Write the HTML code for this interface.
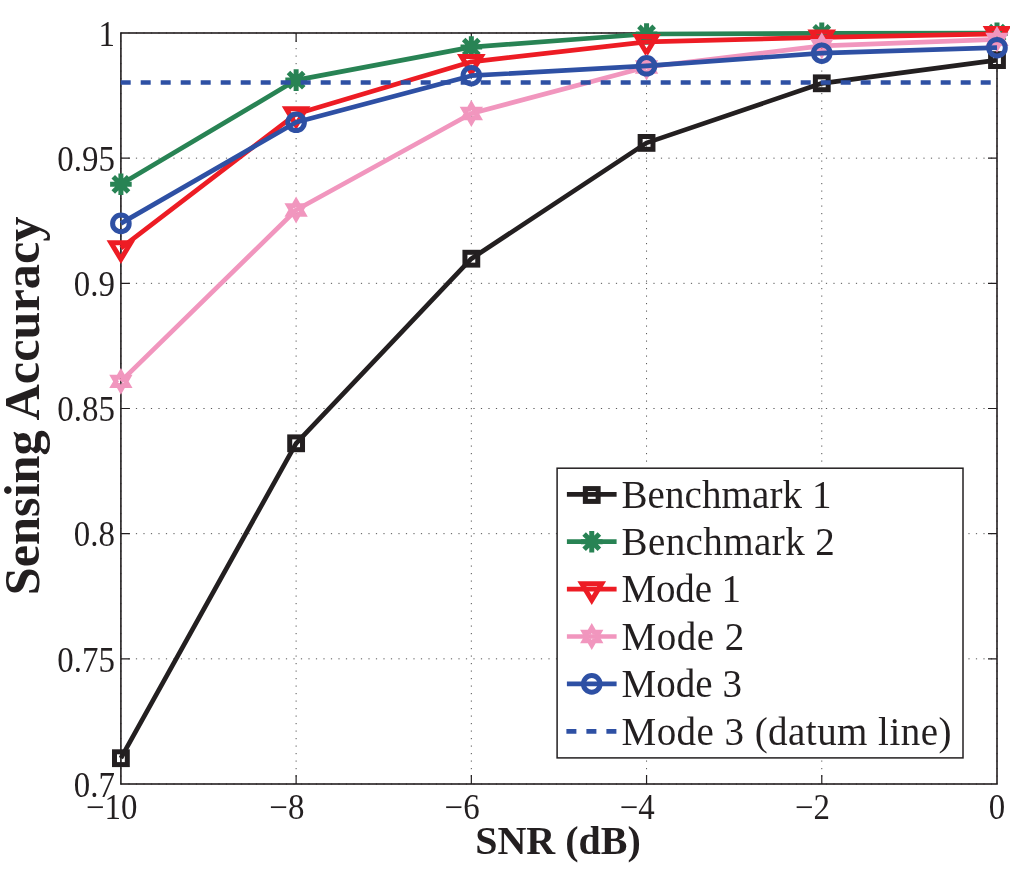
<!DOCTYPE html>
<html><head><meta charset="utf-8"><title>Sensing Accuracy vs SNR</title>
<style>html,body{margin:0;padding:0;background:#fff;}svg{display:block;will-change:transform;}</style>
</head><body>
<svg width="1010" height="874" viewBox="0 0 1010 874">
<rect width="1010" height="874" fill="#fff"/>
<path d="M120.9 33V784M296.12 33V784M471.34 33V784M646.56 33V784M821.78 33V784M997 33V784M120.9 784H997M120.9 658.83H997M120.9 533.67H997M120.9 408.5H997M120.9 283.33H997M120.9 158.17H997M120.9 33H997" stroke="#555" stroke-width="1" stroke-dasharray="1.2 6.3" fill="none"/>
<path d="M296.12 784V775M296.12 33V42M471.34 784V775M471.34 33V42M646.56 784V775M646.56 33V42M821.78 784V775M821.78 33V42M120.9 658.83H129.9M997 658.83H988M120.9 533.67H129.9M997 533.67H988M120.9 408.5H129.9M997 408.5H988M120.9 283.33H129.9M997 283.33H988M120.9 158.17H129.9M997 158.17H988" stroke="#231f20" stroke-width="1.2" fill="none"/>
<rect x="120.9" y="33" width="876.1" height="751" fill="none" stroke="#231f20" stroke-width="1.6"/>
<g font-family="'Liberation Serif', serif" font-size="35" fill="#231f20">
<text transform="translate(114.9 796.8) scale(0.94 1)" text-anchor="end">0.7</text>
<text transform="translate(114.9 671.63) scale(0.94 1)" text-anchor="end">0.75</text>
<text transform="translate(114.9 546.47) scale(0.94 1)" text-anchor="end">0.8</text>
<text transform="translate(114.9 421.3) scale(0.94 1)" text-anchor="end">0.85</text>
<text transform="translate(114.9 296.13) scale(0.94 1)" text-anchor="end">0.9</text>
<text transform="translate(114.9 170.97) scale(0.94 1)" text-anchor="end">0.95</text>
<text transform="translate(114.9 45.8) scale(0.94 1)" text-anchor="end">1</text>
<text transform="translate(137.35 819) scale(0.94 1)" text-anchor="end">&#8722;10</text>
<text transform="translate(304.35 819) scale(0.94 1)" text-anchor="end">&#8722;8</text>
<text transform="translate(479.57 819) scale(0.94 1)" text-anchor="end">&#8722;6</text>
<text transform="translate(654.79 819) scale(0.94 1)" text-anchor="end">&#8722;4</text>
<text transform="translate(830 819) scale(0.94 1)" text-anchor="end">&#8722;2</text>
<text transform="translate(1005.23 819) scale(0.94 1)" text-anchor="end">0</text>
</g>
<text x="558" y="854.3" text-anchor="middle" font-family="'Liberation Serif', serif" font-size="40" font-weight="bold" fill="#231f20">SNR (dB)</text>
<text transform="translate(38.6 405.9) rotate(-90)" text-anchor="middle" font-family="'Liberation Serif', serif" font-size="50.3" font-weight="bold" fill="#231f20">Sensing Accuracy</text>
<polyline points="120.9,758.2 296.12,443.3 471.34,258.7 646.56,142.9 821.78,83.3 997,60.1" fill="none" stroke="#231f20" stroke-width="4.7" stroke-linejoin="round"/>
<rect x="114.5" y="751.8" width="12.8" height="12.8" fill="none" stroke="#231f20" stroke-width="5.0"/>
<rect x="289.72" y="436.9" width="12.8" height="12.8" fill="none" stroke="#231f20" stroke-width="5.0"/>
<rect x="464.94" y="252.3" width="12.8" height="12.8" fill="none" stroke="#231f20" stroke-width="5.0"/>
<rect x="640.16" y="136.5" width="12.8" height="12.8" fill="none" stroke="#231f20" stroke-width="5.0"/>
<rect x="815.38" y="76.9" width="12.8" height="12.8" fill="none" stroke="#231f20" stroke-width="5.0"/>
<rect x="990.6" y="53.7" width="12.8" height="12.8" fill="none" stroke="#231f20" stroke-width="5.0"/>
<polyline points="120.9,184.3 296.12,80.1 471.34,47.1 646.56,34 821.78,33.3 997,33.2" fill="none" stroke="#288354" stroke-width="4.7" stroke-linejoin="round"/>
<path d="M120.9 173.5V195.1M110.1 184.3H131.7M113.26 176.66L128.54 191.94M113.26 191.94L128.54 176.66" stroke="#288354" stroke-width="5.0" fill="none"/>
<path d="M296.12 69.3V90.9M285.32 80.1H306.92M288.48 72.46L303.76 87.74M288.48 87.74L303.76 72.46" stroke="#288354" stroke-width="5.0" fill="none"/>
<path d="M471.34 36.3V57.9M460.54 47.1H482.14M463.7 39.46L478.98 54.74M463.7 54.74L478.98 39.46" stroke="#288354" stroke-width="5.0" fill="none"/>
<path d="M646.56 23.2V44.8M635.76 34H657.36M638.92 26.36L654.2 41.64M638.92 41.64L654.2 26.36" stroke="#288354" stroke-width="5.0" fill="none"/>
<path d="M821.78 22.5V44.1M810.98 33.3H832.58M814.14 25.66L829.42 40.94M814.14 40.94L829.42 25.66" stroke="#288354" stroke-width="5.0" fill="none"/>
<path d="M997 22.4V44M986.2 33.2H1007.8M989.36 25.56L1004.64 40.84M989.36 40.84L1004.64 25.56" stroke="#288354" stroke-width="5.0" fill="none"/>
<polyline points="120.9,248.1 296.12,114 471.34,61.8 646.56,41.9 821.78,37.4 997,33.8" fill="none" stroke="#ed1c24" stroke-width="4.7" stroke-linejoin="round"/>
<polygon points="111,242.8 130.8,242.8 120.9,259.2" fill="none" stroke="#ed1c24" stroke-width="5.0" stroke-linejoin="miter" stroke-miterlimit="10"/>
<polygon points="286.22,108.7 306.02,108.7 296.12,125.1" fill="none" stroke="#ed1c24" stroke-width="5.0" stroke-linejoin="miter" stroke-miterlimit="10"/>
<polygon points="461.44,56.5 481.24,56.5 471.34,72.9" fill="none" stroke="#ed1c24" stroke-width="5.0" stroke-linejoin="miter" stroke-miterlimit="10"/>
<polygon points="636.66,36.6 656.46,36.6 646.56,53" fill="none" stroke="#ed1c24" stroke-width="5.0" stroke-linejoin="miter" stroke-miterlimit="10"/>
<polygon points="811.88,32.1 831.68,32.1 821.78,48.5" fill="none" stroke="#ed1c24" stroke-width="5.0" stroke-linejoin="miter" stroke-miterlimit="10"/>
<polygon points="987.1,28.5 1006.9,28.5 997,44.9" fill="none" stroke="#ed1c24" stroke-width="5.0" stroke-linejoin="miter" stroke-miterlimit="10"/>
<polyline points="120.9,381.4 296.12,210 471.34,113.5 646.56,67 821.78,45.8 997,39.4" fill="none" stroke="#f196be" stroke-width="4.7" stroke-linejoin="round"/>
<polygon points="120.9,372.95 123.34,377.17 128.22,377.17 125.78,381.4 128.22,385.62 123.34,385.62 120.9,389.85 118.46,385.62 113.58,385.62 116.02,381.4 113.58,377.17 118.46,377.17" fill="none" stroke="#f196be" stroke-width="5.0" stroke-linejoin="miter" stroke-miterlimit="10"/>
<polygon points="296.12,201.55 298.56,205.78 303.44,205.78 301,210 303.44,214.22 298.56,214.22 296.12,218.45 293.68,214.22 288.8,214.22 291.24,210 288.8,205.78 293.68,205.78" fill="none" stroke="#f196be" stroke-width="5.0" stroke-linejoin="miter" stroke-miterlimit="10"/>
<polygon points="471.34,105.05 473.78,109.28 478.66,109.28 476.22,113.5 478.66,117.72 473.78,117.72 471.34,121.95 468.9,117.72 464.02,117.72 466.46,113.5 464.02,109.28 468.9,109.28" fill="none" stroke="#f196be" stroke-width="5.0" stroke-linejoin="miter" stroke-miterlimit="10"/>
<polygon points="646.56,58.55 649,62.77 653.88,62.77 651.44,67 653.88,71.22 649,71.22 646.56,75.45 644.12,71.22 639.24,71.22 641.68,67 639.24,62.77 644.12,62.77" fill="none" stroke="#f196be" stroke-width="5.0" stroke-linejoin="miter" stroke-miterlimit="10"/>
<polygon points="821.78,37.35 824.22,41.57 829.1,41.57 826.66,45.8 829.1,50.02 824.22,50.02 821.78,54.25 819.34,50.02 814.46,50.02 816.9,45.8 814.46,41.57 819.34,41.57" fill="none" stroke="#f196be" stroke-width="5.0" stroke-linejoin="miter" stroke-miterlimit="10"/>
<polygon points="997,30.95 999.44,35.17 1004.32,35.17 1001.88,39.4 1004.32,43.62 999.44,43.62 997,47.85 994.56,43.62 989.68,43.62 992.12,39.4 989.68,35.17 994.56,35.17" fill="none" stroke="#f196be" stroke-width="5.0" stroke-linejoin="miter" stroke-miterlimit="10"/>
<polyline points="120.9,223.4 296.12,122.3 471.34,75.7 646.56,65.8 821.78,53.2 997,47.7" fill="none" stroke="#2e50a4" stroke-width="4.7" stroke-linejoin="round"/>
<circle cx="120.9" cy="223.4" r="8.3" fill="none" stroke="#2e50a4" stroke-width="5.0"/>
<circle cx="296.12" cy="122.3" r="8.3" fill="none" stroke="#2e50a4" stroke-width="5.0"/>
<circle cx="471.34" cy="75.7" r="8.3" fill="none" stroke="#2e50a4" stroke-width="5.0"/>
<circle cx="646.56" cy="65.8" r="8.3" fill="none" stroke="#2e50a4" stroke-width="5.0"/>
<circle cx="821.78" cy="53.2" r="8.3" fill="none" stroke="#2e50a4" stroke-width="5.0"/>
<circle cx="997" cy="47.7" r="8.3" fill="none" stroke="#2e50a4" stroke-width="5.0"/>
<path d="M120.7 82.5H997" stroke="#2e50a4" stroke-width="4.7" stroke-dasharray="10 10" fill="none"/>
<rect x="557.1" y="468.2" width="405.9" height="289.7" fill="#fff" stroke="#231f20" stroke-width="1.5"/>
<g font-family="'Liberation Serif', serif" font-size="39" fill="#231f20">
<path d="M566.9 494.3H616.6" stroke="#231f20" stroke-width="4.7"/>
<rect x="585.35" y="488.6" width="12.8" height="12.8" fill="none" stroke="#231f20" stroke-width="5.0"/>
<text x="621.5" y="507.5" textLength="210" lengthAdjust="spacing">Benchmark 1</text>
<path d="M566.9 541.7H616.6" stroke="#288354" stroke-width="4.7"/>
<path d="M591.75 530.9V552.5M580.95 541.7H602.55M584.11 534.06L599.39 549.34M584.11 549.34L599.39 534.06" stroke="#288354" stroke-width="5.0" fill="none"/>
<text x="621.5" y="554.9" textLength="213.3" lengthAdjust="spacing">Benchmark 2</text>
<path d="M566.9 589.1H616.6" stroke="#ed1c24" stroke-width="4.7"/>
<polygon points="581.85,583.8 601.65,583.8 591.75,600.2" fill="none" stroke="#ed1c24" stroke-width="5.0" stroke-linejoin="miter" stroke-miterlimit="10"/>
<text x="621.5" y="602.3" textLength="119.45" lengthAdjust="spacing">Mode 1</text>
<path d="M566.9 636.5H616.6" stroke="#f196be" stroke-width="4.7"/>
<polygon points="591.75,628.05 594.19,632.27 599.07,632.27 596.63,636.5 599.07,640.73 594.19,640.73 591.75,644.95 589.31,640.73 584.43,640.73 586.87,636.5 584.43,632.27 589.31,632.27" fill="none" stroke="#f196be" stroke-width="5.0" stroke-linejoin="miter" stroke-miterlimit="10"/>
<text x="621.5" y="649.7" textLength="122.65" lengthAdjust="spacing">Mode 2</text>
<path d="M566.9 683.9H616.6" stroke="#2e50a4" stroke-width="4.7"/>
<circle cx="591.75" cy="683.9" r="8.3" fill="none" stroke="#2e50a4" stroke-width="5.0"/>
<text x="621.5" y="697.1" textLength="120.55" lengthAdjust="spacing">Mode 3</text>
<path d="M566.4 731.3H616.6" stroke="#2e50a4" stroke-width="4.7" stroke-dasharray="10 10"/>
<text x="621.5" y="744.5" textLength="329.9" lengthAdjust="spacing">Mode 3 (datum line)</text>
</g>
</svg>
</body></html>
